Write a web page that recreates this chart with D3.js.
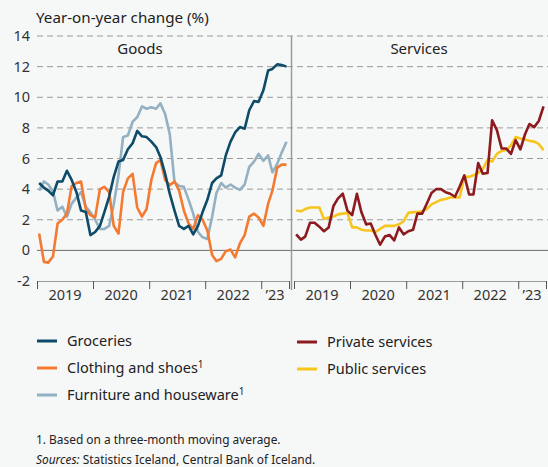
<!DOCTYPE html>
<html>
<head>
<meta charset="utf-8">
<script src="https://cdn.jsdelivr.net/npm/d3@7"></script>
<style>
  html, body { margin: 0; padding: 0; background: #f6f7f7; }
  svg { display: block; font-family: "Noto Sans", sans-serif; }
</style>
</head>
<body>
<div id="chart"></div>
<script>
// Monthly observations, Jan 2019 - Jun 2023
const firstMonth = new Date(2019, 0, 15)
const monthCount = 54

const groceries = [4.4, 4.1, 3.9, 3.6, 4.5, 4.5, 5.2, 4.6, 3.8, 2.6, 2.5, 1.0, 1.2, 1.6, 2.5, 3.5, 4.8, 5.8,
  5.9, 6.6, 7.0, 7.8, 7.45, 7.4, 7.1, 6.75, 6.1, 5.0, 3.7, 2.6, 1.6, 1.4, 1.6, 1.05, 1.6, 2.5,
  3.3, 4.4, 4.7, 4.9, 6.2, 7.1, 7.7, 8.05, 7.95, 9.15, 9.75, 9.7, 10.45, 11.75, 11.85, 12.15, 12.1, 12.0]
const clothing = [1.1, -0.75, -0.8, -0.4, 1.75, 2.0, 2.4, 4.2, 4.4, 4.5, 2.7, 2.3, 2.15, 4.0, 4.15, 3.8, 1.6, 1.1,
  3.8, 4.7, 5.0, 2.8, 2.2, 2.7, 4.6, 5.7, 5.9, 4.6, 4.25, 4.5, 3.9, 2.6, 1.75, 1.4, 2.3, 2.0,
  1.3, -0.3, -0.7, -0.55, -0.05, 0.05, -0.45, 0.45, 1.0, 2.2, 2.4, 2.15, 1.6, 3.05, 3.9, 5.4, 5.6, 5.6]
const furniture = [3.9, 4.5, 4.3, 3.85, 2.6, 2.85, 2.2, 3.05, 3.45, 3.8, 2.85, 2.5, 2.0, 1.4, 1.4, 1.6, 3.0, 4.9,
  7.4, 7.5, 8.4, 8.7, 9.4, 9.25, 9.35, 9.25, 9.6, 8.9, 7.6, 4.45, 4.2, 4.15, 3.3, 2.4, 1.2, 0.85,
  0.75, 2.2, 3.75, 4.4, 4.1, 4.3, 4.1, 3.95, 4.3, 5.45, 5.8, 6.3, 5.85, 6.2, 5.1, 5.65, 6.4, 7.1]
const privateServices = [1.05, 0.7, 0.9, 1.8, 1.8, 1.55, 1.25, 1.5, 2.9, 3.4, 3.7, 2.6, 2.3, 3.7, 2.5, 1.7, 1.75, 1.0,
  0.37, 0.9, 1.0, 0.65, 1.5, 1.05, 1.25, 1.35, 2.4, 2.4, 3.05, 3.75, 4.0, 4.0, 3.8, 3.7, 3.5, 4.15,
  4.9, 3.65, 3.65, 5.7, 5.0, 5.05, 8.5, 7.85, 6.65, 6.65, 6.3, 7.2, 6.6, 7.6, 8.25, 8.05, 8.45, 9.4]
const publicServices = [2.6, 2.55, 2.7, 2.8, 2.8, 2.8, 2.05, 2.15, 2.2, 2.35, 2.4, 2.45, 1.5, 1.5, 1.35, 1.3, 1.3, 1.2,
  1.4, 1.6, 1.6, 1.6, 1.7, 1.9, 2.45, 2.5, 2.5, 2.55, 2.7, 3.0, 3.15, 3.3, 3.35, 3.45, 3.45, 3.45,
  4.8, 4.8, 4.9, 5.05, 5.3, 5.9, 5.8, 6.3, 6.5, 6.55, 6.85, 7.4, 7.3, 7.25, 7.15, 7.1, 6.95, 6.55]

const yTicks = [14, 12, 10, 8, 6, 4, 2, 0, -2]
const yearStarts = [2019, 2020, 2021, 2022, 2023]
const yearLabels = ["2019", "2020", "2021", "2022", "’23"]

const goodsSeries = [
  { name: "Furniture and houseware", note: true, values: furniture, color: "#93b1c3" },
  { name: "Clothing and shoes", note: true, values: clothing, color: "#f37a30" },
  { name: "Groceries", note: false, values: groceries, color: "#0d4b68" },
]
const servicesSeries = [
  { name: "Public services", note: false, values: publicServices, color: "#f6c51f" },
  { name: "Private services", note: false, values: privateServices, color: "#8c1a1e" },
]

function drawChart() {
  const width = 548
  const height = 467
  const svg = d3.select("#chart").append("svg").attr("width", width).attr("height", height)

  svg.append("rect").attr("width", width).attr("height", height).attr("fill", "#f6f7f7")

  // Escala vertical comum
  const y = d3.scaleLinear().domain([-2, 14]).range([281, 36])

  // Dois painéis lado a lado
  const timeEnd = new Date(2023, 6, 1)
  const xGoods = d3.scaleTime().domain([new Date(2019, 0, 1), timeEnd]).range([37, 289])
  const xServices = d3.scaleTime().domain([new Date(2019, 0, 1), timeEnd]).range([294, 546])

  const months = d3.range(monthCount).map((i) => d3.timeMonth.offset(firstMonth, i))

  // Linhas de grade tracejadas
  svg.append("g")
    .selectAll("line")
    .data(yTicks.filter((t) => t > 0))
    .enter()
    .append("line")
    .attr("x1", 37).attr("x2", width)
    .attr("y1", (d) => y(d)).attr("y2", (d) => y(d))
    .attr("stroke", "#9a9a9a")
    .attr("stroke-width", 1)
    .attr("stroke-dasharray", "6,4")

  // Linha do zero
  svg.append("line")
    .attr("x1", 37).attr("x2", width)
    .attr("y1", y(0)).attr("y2", y(0))
    .attr("stroke", "#6b6b6b").attr("stroke-width", 1)

  // Rótulos do eixo y
  svg.append("g")
    .selectAll("text")
    .data(yTicks)
    .enter()
    .append("text")
    .attr("x", 30)
    .attr("y", (d) => y(d) + 5)
    .attr("text-anchor", "end")
    .attr("font-size", 14.5)
    .attr("fill", "#333")
    .text((d) => d)

  svg.append("text")
    .attr("x", 36).attr("y", 23)
    .attr("font-size", 15.2)
    .attr("fill", "#222")
    .text("Year-on-year change (%)")

  // Eixos x de cada painel
  ;[xGoods, xServices].forEach((x) => {
    const ticks = yearStarts.map((yr) => new Date(yr, 0, 1)).concat([timeEnd])
    const axis = d3.axisBottom(x).tickValues(ticks).tickFormat("").tickSize(8).tickSizeOuter(0)
    const g = svg.append("g").attr("transform", "translate(0," + y(-2) + ")").call(axis)
    g.select(".domain").attr("stroke", "#9a9a9a")
    g.selectAll(".tick line").attr("stroke", "#555")

    yearStarts.forEach((yr, i) => {
      const a = new Date(yr, 0, 1)
      const b = i < yearStarts.length - 1 ? new Date(yr + 1, 0, 1) : timeEnd
      svg.append("text")
        .attr("x", (x(a) + x(b)) / 2)
        .attr("y", 300)
        .attr("text-anchor", "middle")
        .attr("font-size", 14.5)
        .attr("fill", "#333")
        .text(yearLabels[i])
    })
  })

  // Divisória entre os painéis
  svg.append("line")
    .attr("x1", 291.5).attr("x2", 291.5)
    .attr("y1", 36).attr("y2", 290)
    .attr("stroke", "#9a9a9a").attr("stroke-width", 1.5)

  // Títulos dos painéis
  svg.append("text").attr("x", 140).attr("y", 54).attr("text-anchor", "middle")
    .attr("font-size", 15).attr("fill", "#222").text("Goods")
  svg.append("text").attr("x", 419).attr("y", 54).attr("text-anchor", "middle")
    .attr("font-size", 15).attr("fill", "#222").text("Services")

  // Desenho das séries
  const drawSeries = (series, x) => {
    const line = d3.line().x((_, i) => x(months[i])).y((d) => y(d))
    series.forEach((s) => {
      svg.append("path")
        .datum(s.values)
        .attr("fill", "none")
        .attr("stroke", s.color)
        .attr("stroke-width", 2.6)
        .attr("stroke-linejoin", "round")
        .attr("d", line)
    })
  }
  drawSeries(goodsSeries, xGoods)
  drawSeries(servicesSeries, xServices)

  // Legenda
  const legendItems = [
    { s: goodsSeries[2], x: 37, y: 341 },
    { s: goodsSeries[1], x: 37, y: 368 },
    { s: goodsSeries[0], x: 37, y: 395 },
    { s: servicesSeries[1], x: 297, y: 342 },
    { s: servicesSeries[0], x: 297, y: 369 },
  ]
  legendItems.forEach(({ s, x, y: ly }) => {
    svg.append("line")
      .attr("x1", x).attr("x2", x + 20)
      .attr("y1", ly).attr("y2", ly)
      .attr("stroke", s.color).attr("stroke-width", 3)
    const t = svg.append("text")
      .attr("x", x + 30).attr("y", ly + 5)
      .attr("font-size", 14.5)
      .attr("fill", "#222")
    t.append("tspan").text(s.name)
    if (s.note) {
      t.append("tspan").attr("font-size", 10).attr("dy", -5).text("1")
    }
  })

  // Notas de rodapé
  svg.append("text")
    .attr("x", 36).attr("y", 444)
    .attr("font-size", 11.9).attr("fill", "#222")
    .text("1. Based on a three-month moving average.")
  const src = svg.append("text")
    .attr("x", 36).attr("y", 464)
    .attr("font-size", 11.9).attr("fill", "#222")
  src.append("tspan").attr("font-style", "italic").text("Sources:")
  src.append("tspan").text(" Statistics Iceland, Central Bank of Iceland.")
}

drawChart()
</script>
</body>
</html>
